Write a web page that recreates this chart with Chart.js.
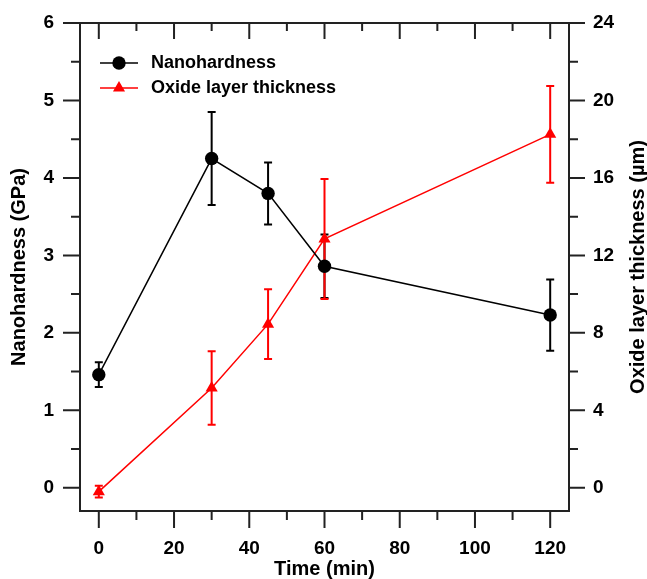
<!DOCTYPE html>
<html>
<head>
<meta charset="utf-8">
<title>Nanohardness and oxide layer thickness</title>
<script src="https://cdn.jsdelivr.net/npm/chart.js@4"></script>
<style>
  html, body { margin: 0; padding: 0; background: #fff; }
  #wrap { width: 647px; height: 579px; }
</style>
</head>
<body>
<div id="wrap"><canvas id="hardnessChart"></canvas></div>
<script>
// oxidation time (min)
const times = [0, 30, 45, 60, 120];

// nanohardness (GPa) with +/- error
const hardness = [1.46, 4.25, 3.80, 2.86, 2.23];
const hardnessErr = [0.16, 0.60, 0.40, 0.41, 0.46];

// oxide layer thickness (µm) with +/- error
const oxide = [-0.2, 5.15, 8.45, 12.85, 18.25];
const oxideErr = [0.3, 1.9, 1.8, 3.1, 2.5];

// labelled ticks
const timeTicks = [0, 20, 40, 60, 80, 100, 120];
const hardnessTicks = [0, 1, 2, 3, 4, 5, 6];
const oxideTicks = [0, 4, 8, 12, 16, 20, 24];

const AXIS_COLOR = '#222';
const FONT_FAMILY = '"Liberation Sans", Arial, sans-serif';

Chart.defaults.font.family = FONT_FAMILY;
Chart.defaults.font.weight = 'bold';
Chart.defaults.color = '#000';

// vertical error bars with caps, drawn under the markers
const errorBars = {
    id: 'errorBars',
    beforeDatasetsDraw(chart) {
        const ctx = chart.ctx;
        chart.data.datasets.forEach((ds, i) => {
            const meta = chart.getDatasetMeta(i);
            const xs = chart.scales[meta.xAxisID];
            const ys = chart.scales[meta.yAxisID];
            ctx.save();
            ctx.strokeStyle = ds.borderColor;
            ctx.lineWidth = 2;
            ds.data.forEach((p, j) => {
                const x = xs.getPixelForValue(p.x);
                const top = ys.getPixelForValue(p.y + ds.errors[j]);
                const bot = ys.getPixelForValue(p.y - ds.errors[j]);
                ctx.beginPath();
                ctx.moveTo(x, top); ctx.lineTo(x, bot);
                ctx.moveTo(x - 4, top); ctx.lineTo(x + 4, top);
                ctx.moveTo(x - 4, bot); ctx.lineTo(x + 4, bot);
                ctx.stroke();
            });
            ctx.restore();
        });
    }
};

// box frame with major/minor tick marks (top ticks point inward)
const frame = {
    id: 'frame',
    afterDraw(chart) {
        const {ctx, chartArea: a, scales} = chart;
        const minor = (ticks) => ticks.slice(0, -1).map((v, i) => (v + ticks[i + 1]) / 2);
        ctx.save();
        ctx.strokeStyle = AXIS_COLOR;
        ctx.lineWidth = 2;
        ctx.strokeRect(a.left, a.top, a.right - a.left, a.bottom - a.top);
        ctx.beginPath();
        hardnessTicks.forEach(v => {
            const y = scales.y.getPixelForValue(v);
            ctx.moveTo(a.left - 17, y); ctx.lineTo(a.left, y);
        });
        minor(hardnessTicks).forEach(v => {
            const y = scales.y.getPixelForValue(v);
            ctx.moveTo(a.left - 9, y); ctx.lineTo(a.left, y);
        });
        oxideTicks.forEach(v => {
            const y = scales.y1.getPixelForValue(v);
            ctx.moveTo(a.right, y); ctx.lineTo(a.right + 16, y);
        });
        minor(oxideTicks).forEach(v => {
            const y = scales.y1.getPixelForValue(v);
            ctx.moveTo(a.right, y); ctx.lineTo(a.right + 9, y);
        });
        timeTicks.forEach(v => {
            const x = scales.x.getPixelForValue(v);
            ctx.moveTo(x, a.bottom); ctx.lineTo(x, a.bottom + 17);
            ctx.moveTo(x, a.top); ctx.lineTo(x, a.top + 16);
        });
        minor(timeTicks).forEach(v => {
            const x = scales.x.getPixelForValue(v);
            ctx.moveTo(x, a.bottom); ctx.lineTo(x, a.bottom + 9);
            ctx.moveTo(x, a.top); ctx.lineTo(x, a.top + 8);
        });
        ctx.stroke();

        // right axis title, reading bottom to top
        ctx.translate(chart.width - 9, (a.top + a.bottom) / 2);
        ctx.rotate(-Math.PI / 2);
        ctx.fillStyle = '#000';
        ctx.font = 'bold 20px ' + FONT_FAMILY;
        ctx.textAlign = 'center';
        ctx.textBaseline = 'middle';
        ctx.fillText('Oxide layer thickness (µm)', 0, 0);
        ctx.restore();
    }
};

function marker(ctx, style, r, x, y) {
    ctx.beginPath();
    if (style === 'triangle') {
        ctx.moveTo(x, y - r);
        ctx.lineTo(x + r * Math.sin(Math.PI / 3), y + r / 2);
        ctx.lineTo(x - r * Math.sin(Math.PI / 3), y + r / 2);
        ctx.closePath();
    } else {
        ctx.arc(x, y, r, 0, Math.PI * 2);
    }
    ctx.fill();
}

// legend inside the plot, line + marker + label
const insideLegend = {
    id: 'insideLegend',
    afterDraw(chart) {
        const {ctx, chartArea} = chart;
        const x0 = chartArea.left + 20;
        const y0 = chartArea.top + 40;
        chart.data.datasets.forEach((ds, i) => {
            const y = y0 + i * 25;
            ctx.save();
            ctx.strokeStyle = ds.borderColor;
            ctx.fillStyle = ds.borderColor;
            ctx.lineWidth = ds.borderWidth;
            ctx.beginPath();
            ctx.moveTo(x0, y); ctx.lineTo(x0 + 38, y);
            ctx.stroke();
            marker(ctx, ds.pointStyle, ds.pointRadius, x0 + 19, y);
            ctx.fillStyle = '#000';
            ctx.font = 'bold 18px ' + FONT_FAMILY;
            ctx.textBaseline = 'middle';
            ctx.fillText(ds.label, x0 + 51, y);
            ctx.restore();
        });
    }
};

const tickFont = {size: 19, weight: 'bold'};
const titleFont = {size: 20, weight: 'bold', lineHeight: 1};

// fixed axis sizes so the plot box lands at 80..569 x 23..511
function fixWidth(w) {
    return s => { s.width = w; s.paddingTop = 0; s.paddingBottom = 0; };
}

new Chart(document.getElementById('hardnessChart'), {
    type: 'line',
    data: {
        datasets: [{
            label: 'Nanohardness',
            data: times.map((t, i) => ({x: t, y: hardness[i]})),
            errors: hardnessErr,
            yAxisID: 'y',
            borderColor: '#000',
            backgroundColor: '#000',
            borderWidth: 1.5,
            pointStyle: 'circle',
            pointRadius: 6.7,
            pointBorderWidth: 0,
            pointBackgroundColor: '#000'
        }, {
            label: 'Oxide layer thickness',
            data: times.map((t, i) => ({x: t, y: oxide[i]})),
            errors: oxideErr,
            yAxisID: 'y1',
            borderColor: '#ff0000',
            backgroundColor: '#ff0000',
            borderWidth: 1.5,
            pointStyle: 'triangle',
            pointRadius: 7,
            pointBorderWidth: 0,
            pointBackgroundColor: '#ff0000'
        }]
    },
    options: {
        responsive: true,
        maintainAspectRatio: false,
        animation: false,
        layout: {padding: {top: 23, left: 0, right: 0, bottom: 0}},
        plugins: {
            legend: {display: false},
            tooltip: {enabled: false}
        },
        scales: {
            x: {
                type: 'linear',
                position: 'bottom',
                min: -5,
                max: 125,
                grid: {display: false, drawTicks: false},
                border: {display: false},
                afterBuildTicks: s => { s.ticks = timeTicks.map(v => ({value: v})); },
                afterFit: s => { s.height = 68; s.paddingLeft = 0; s.paddingRight = 0; },
                ticks: {padding: 26, font: tickFont, color: '#000', autoSkip: false, maxRotation: 0},
                title: {display: true, text: 'Time (min)', font: titleFont, padding: 0, color: '#000'}
            },
            y: {
                type: 'linear',
                position: 'left',
                min: -0.3,
                max: 6,
                grid: {display: false, drawTicks: false},
                border: {display: false},
                afterBuildTicks: s => { s.ticks = hardnessTicks.map(v => ({value: v})); },
                afterFit: fixWidth(80),
                ticks: {padding: 26, font: tickFont, color: '#000'},
                title: {display: true, text: 'Nanohardness (GPa)', font: titleFont, padding: {top: 9, bottom: 0}, color: '#000'}
            },
            y1: {
                type: 'linear',
                position: 'right',
                min: -1.2,
                max: 24,
                grid: {display: false, drawTicks: false},
                border: {display: false},
                afterBuildTicks: s => { s.ticks = oxideTicks.map(v => ({value: v})); },
                afterFit: fixWidth(78),
                ticks: {padding: 24, font: tickFont, color: '#000'}
            }
        }
    },
    plugins: [errorBars, frame, insideLegend]
});
</script>
</body>
</html>
